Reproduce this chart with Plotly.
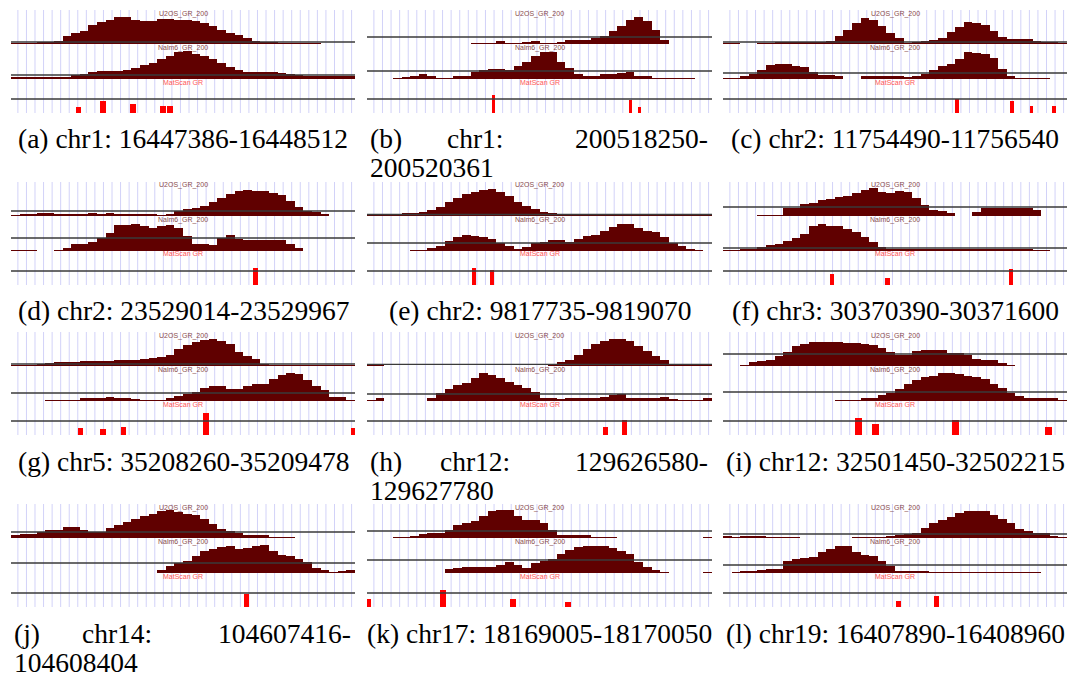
import plotly.graph_objects as go

W, H = 1072, 681

# ---------------- data (signal heights per bin, 40 bins per region) ----------------
u2os_a = [1,1,1,2,2,3,8,11,13,19,22,24,27,27,24,23,23,25,25,24,24,23,21,18,14,11,9,6,3,2,2,1,1,1,1,1,0,0,0,0]
nalm6_a = [2,2,2,2,2,2,2,4,5,7,8,8,8,9,11,14,16,20,23,27,28,25,23,20,16,12,9,7,7,7,7,6,5,4,3,3,3,3,3,3]
u2os_b = [0,0,0,0,0,0,0,0,0,0,0,0,1,1,1,3,1,1,2,3,1,1,2,4,4,4,6,8,13,18,24,27,23,14,4,0,0,0,0,0]
nalm6_b = [0,0,0,1,2,3,5,3,1,1,3,3,7,9,10,10,9,13,17,23,27,27,17,11,5,3,3,5,5,6,7,3,3,1,1,1,1,1,0,0]
u2os_c = [1,1,0,0,1,1,2,2,2,2,2,2,3,8,14,21,26,24,18,11,6,1,2,3,4,6,12,17,22,21,19,13,7,5,5,5,3,2,2,1]
nalm6_c = [1,1,3,5,9,14,15,15,13,12,7,4,4,3,0,0,3,3,3,3,3,2,3,5,9,13,15,20,27,26,25,21,10,3,1,1,1,1,0,0]
u2os_d = [1,2,2,3,3,2,2,2,2,3,2,3,2,2,2,2,2,1,2,5,7,8,10,14,18,22,25,26,25,25,23,21,15,9,5,4,2,0,0,0]
nalm6_d = [1,1,1,0,0,1,3,7,7,9,13,18,26,26,27,25,23,25,26,23,15,7,7,6,13,16,12,11,11,11,11,11,7,3,0,0,0,0,0,0]
u2os_e = [1,1,1,1,3,3,4,6,9,14,18,22,24,26,27,24,20,14,10,7,4,3,1,1,1,1,1,2,2,2,1,1,1,1,1,1,1,1,1,1]
nalm6_e = [0,0,0,0,0,1,1,3,5,10,14,16,15,14,12,8,5,2,4,8,9,11,11,9,12,15,16,20,24,27,27,23,20,19,14,8,5,2,1,0]
u2os_f = [0,0,0,0,1,1,1,8,8,12,13,16,17,19,20,23,26,28,24,23,25,24,18,11,6,5,3,0,0,4,8,8,8,8,8,8,6,0,0,0]
nalm6_f = [1,1,2,2,4,6,7,10,13,17,25,27,25,25,22,19,14,9,4,2,2,2,2,2,2,2,2,2,2,2,2,2,2,2,2,2,1,1,0,0]
u2os_g = [1,1,1,2,3,4,4,4,5,5,5,5,6,6,6,7,8,9,11,17,21,24,26,27,25,22,14,10,7,2,1,1,1,1,1,1,1,1,1,1]
nalm6_g = [0,0,0,0,1,1,1,1,3,3,3,4,3,3,2,1,1,1,3,5,7,9,13,15,15,12,12,15,17,17,22,26,28,27,21,15,11,4,4,1]
u2os_h = [1,1,0,0,0,0,0,0,0,0,0,0,0,0,0,0,0,0,0,0,0,1,4,6,11,17,22,25,27,27,25,20,15,10,6,2,1,1,1,1]
nalm6_h = [1,3,0,0,0,0,0,3,8,12,16,18,23,28,26,23,19,16,13,9,3,3,2,3,3,3,3,4,6,7,3,3,3,3,4,2,1,1,1,3]
u2os_i = [0,0,1,4,5,6,10,14,20,22,24,24,24,24,23,23,22,21,18,14,11,11,15,16,16,16,13,13,11,7,6,6,3,1,0,0,0,0,0,0]
nalm6_i = [0,0,0,0,0,0,0,0,0,0,0,0,0,1,1,1,3,3,6,8,12,17,21,24,25,28,28,27,25,24,22,17,13,8,5,3,3,3,3,1]
u2os_j = [3,4,4,6,8,8,11,11,8,6,6,10,13,16,19,22,24,27,28,26,24,23,19,14,9,7,5,3,3,3,1,1,1,0,0,0,0,0,0,0]
nalm6_j = [0,0,0,0,0,0,0,0,0,0,0,0,0,0,0,0,0,3,7,10,12,17,22,24,26,27,24,25,27,28,22,18,17,14,11,5,3,1,2,3]
u2os_k = [0,0,0,1,1,2,4,5,5,8,13,15,17,22,27,28,28,22,18,18,15,8,3,3,3,3,1,1,1,0,0,0,0,0,0,0,0,0,0,1]
nalm6_k = [0,0,0,0,0,0,0,0,0,4,5,6,6,6,6,8,11,8,5,10,12,14,19,23,26,27,27,27,25,22,19,11,6,3,1,0,0,0,0,1]
u2os_l = [2,1,2,2,2,1,1,1,1,0,0,0,0,0,0,1,1,1,1,2,3,4,5,10,15,18,21,25,27,27,27,23,19,15,9,7,5,5,2,1]
nalm6_l = [0,1,2,2,3,4,4,12,14,15,16,21,24,27,27,21,18,17,12,7,2,2,2,2,1,1,1,1,1,1,1,1,1,1,1,1,1,0,0,0]

# reference (threshold) line level of each track, panels a..l
ref_u2os = [2, 7, 2, 5, 1.5, 9, 2, 1.7, 12, 6, 7, 4]
ref_nalm6 = [4, 8, 6, 13, 8, 3, 8, 7, 9, 10, 13, 8]

# MatScan GR motif hits: position (bin units) and score height
motif_pos_a = [7.85, 10.7, 14.2, 17.7, 18.5]
motif_h_a = [6, 12, 9, 7, 7]
motif_pos_b = [14.7, 30.5, 31.6]
motif_h_b = [18, 13, 6]
motif_pos_c = [27.2, 33.6, 35.9, 38.5]
motif_h_c = [14, 12, 7, 7]
motif_pos_d = [28.4]
motif_h_d = [17]
motif_pos_e = [12.4, 14.5]
motif_h_e = [17, 15]
motif_pos_f = [12.7, 19.1, 33.5]
motif_h_f = [11, 7, 16]
motif_pos_g = [8.1, 10.7, 13.1, 22.7, 39.8]
motif_h_g = [7, 6, 8, 22, 7]
motif_pos_h = [27.6, 29.9]
motif_h_h = [8, 15]
motif_pos_i = [15.8, 17.7, 27.0, 37.9]
motif_h_i = [17, 11, 15, 8]
motif_pos_j = [27.4]
motif_h_j = [13]
motif_pos_k = [0.1, 8.8, 16.9, 23.3]
motif_h_k = [8, 17, 8, 5]
motif_pos_l = [20.4, 24.8]
motif_h_l = [6, 11]
# motif width relative to region length (bin units)
motif_width = [0.64, 0.35, 0.38, 0.62, 0.4, 0.52, 0.64, 0.58, 0.81, 0.66, 0.74, 0.55]

letters = ["a", "b", "c", "d", "e", "f", "g", "h", "i", "j", "k", "l"]
chroms = ["chr1", "chr1", "chr2", "chr2", "chr2", "chr3", "chr5", "chr12", "chr12", "chr14", "chr17", "chr19"]
starts = ["16447386", "200518250", "11754490", "23529014", "9817735", "30370390",
          "35208260", "129626580", "32501450", "104607416", "18169005", "16407890"]
ends = ["16448512", "200520361", "11756540", "23529967", "9819070", "30371600",
        "35209478", "129627780", "32502215", "104608404", "18170050", "16408960"]

u2os = [u2os_a, u2os_b, u2os_c, u2os_d, u2os_e, u2os_f, u2os_g, u2os_h, u2os_i, u2os_j, u2os_k, u2os_l]
nalm6 = [nalm6_a, nalm6_b, nalm6_c, nalm6_d, nalm6_e, nalm6_f, nalm6_g, nalm6_h, nalm6_i, nalm6_j, nalm6_k, nalm6_l]
mpos = [motif_pos_a, motif_pos_b, motif_pos_c, motif_pos_d, motif_pos_e, motif_pos_f,
        motif_pos_g, motif_pos_h, motif_pos_i, motif_pos_j, motif_pos_k, motif_pos_l]
mh = [motif_h_a, motif_h_b, motif_h_c, motif_h_d, motif_h_e, motif_h_f,
      motif_h_g, motif_h_h, motif_h_i, motif_h_j, motif_h_k, motif_h_l]

# ---------------- layout geometry (pixels) ----------------
col_x = [(11, 355), (367, 712), (723, 1067)]
row_top = [10, 182, 332, 504]
PANEL_H = 103
BASE1 = 69      # U2OS track baseline (panel units, 0 = bottom)
BASE2 = 34      # Nalm6 track baseline
LINE3 = 14      # MatScan track line
NB = 40

FILL = "#600000"
GRID = "#d2d2f8"
LINEC = "#3a3a3a"
LABC = "#8a4e4e"
MATC = "#ff5656"

fig = go.Figure()
shapes = []
annotations = []

for n in range(12):
    r, c = divmod(n, 3)
    ax = "" if n == 0 else str(n + 1)
    xr = "x" + ax
    yr = "y" + ax
    xl_px, xr_px = col_x[c]
    top = row_top[r]
    bot = top + PANEL_H
    fig.update_layout(**{
        "xaxis" + ax: dict(domain=[xl_px / W, xr_px / W], range=[0, NB], visible=False,
                           fixedrange=True, anchor=yr),
        "yaxis" + ax: dict(domain=[(H - bot) / H, (H - top) / H], range=[0, PANEL_H],
                           visible=False, fixedrange=True, anchor=xr),
    })
    centers = [i + 0.5 for i in range(NB)]
    for vals, base in ((u2os[n], BASE1), (nalm6[n], BASE2)):
        fig.add_trace(go.Bar(x=centers, y=[v if v > 0 else None for v in vals], base=base,
                             width=1.0, marker=dict(color=FILL, line=dict(width=0)),
                             xaxis=xr, yaxis=yr, hoverinfo="skip", showlegend=False))
    fig.add_trace(go.Bar(x=mpos[n], y=mh[n], base=0, width=motif_width[n],
                         marker=dict(color="#ff0000", line=dict(width=0)),
                         xaxis=xr, yaxis=yr, hoverinfo="skip", showlegend=False))
    # vertical grid
    for k in range(NB):
        gx = 0.8 + 0.995 * k
        shapes.append(dict(type="line", xref=xr, yref=yr + " domain", x0=gx, x1=gx, y0=0, y1=1,
                           line=dict(color=GRID, width=1), layer="below"))
    # track lines
    for yv in (BASE1 + ref_u2os[n], BASE2 + ref_nalm6[n], LINE3):
        shapes.append(dict(type="line", xref=xr + " domain", yref=yr, x0=0, x1=1, y0=yv, y1=yv,
                           line=dict(color=LINEC, width=1.3), layer="above"))
    # track labels
    for txt, yv, col in (("U2OS_GR_200", PANEL_H - 3.5, LABC), ("Nalm6_GR_200", PANEL_H - 38, LABC),
                         ("MatScan GR", PANEL_H - 72, MATC)):
        annotations.append(dict(text=txt, xref=xr + " domain", yref=yr, x=0.5, y=yv,
                                showarrow=False, font=dict(family="Liberation Sans", size=7, color=col),
                                xanchor="center", yanchor="middle"))

# ---------------- captions ----------------
CAP_FONT = dict(family="Liberation Serif", size=27.5, color="black")
cap_y = [(138, 167), (310, 339), (461, 490), (633, 662)]
# justified two-line captions: middle-word start pixel
justified = {"b": 445, "h": 438, "j": 80}


def cap(text, x, y, anchor):
    annotations.append(dict(text=text, xref="paper", yref="paper", x=x / W, y=1 - y / H,
                            showarrow=False, font=CAP_FONT, xanchor=anchor, yanchor="middle"))


for n, L in enumerate(letters):
    r, c = divmod(n, 3)
    xl_px, xr_px = col_x[c]
    y1, y2 = cap_y[r]
    if L in justified:
        left = xl_px + 1
        right = xr_px - 2
        cap("(" + L + ")", left, y1, "left")
        cap(chroms[n] + ":", justified[L], y1, "left")
        cap(starts[n] + "-", right, y1, "right")
        cap(ends[n], left, y2, "left")
    else:
        cap("(" + L + ") " + chroms[n] + ": " + starts[n] + "-" + ends[n], (xl_px + xr_px) / 2, y1, "center")

fig.update_layout(width=W, height=H, margin=dict(l=0, r=0, t=0, b=0),
                  paper_bgcolor="white", plot_bgcolor="white",
                  barmode="overlay", bargap=0, showlegend=False,
                  shapes=shapes, annotations=annotations)

fig.write_html("out.html")
